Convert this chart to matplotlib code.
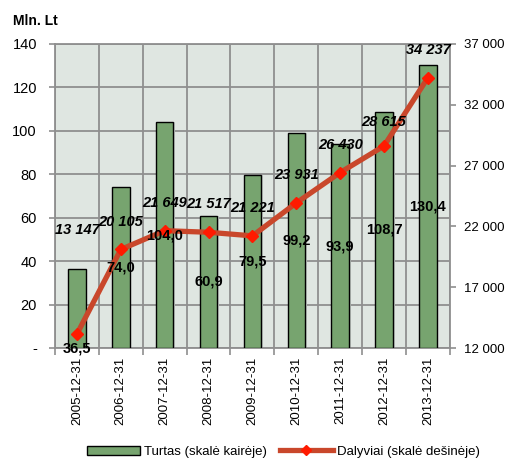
import numpy as np
import matplotlib.pyplot as plt
from matplotlib.ticker import FixedLocator, FuncFormatter
from matplotlib.patches import Patch
from matplotlib.lines import Line2D

# data
dates = ["2005-12-31", "2006-12-31", "2007-12-31", "2008-12-31", "2009-12-31",
         "2010-12-31", "2011-12-31", "2012-12-31", "2013-12-31"]
turtas = [36.5, 74.0, 104.0, 60.9, 79.5, 99.2, 93.9, 108.7, 130.4]
dalyviai = [13147, 20105, 21649, 21517, 21221, 23931, 26430, 28615, 34237]

plt.rcParams["font.family"] = ["Liberation Sans Narrow", "Liberation Sans", "DejaVu Sans"]
plt.rcParams["font.size"] = 10

fig = plt.figure(figsize=(5.06, 4.61), dpi=100)
ax = fig.add_axes([0.1087, 0.2451, 0.7803, 0.6595])
ay = ax.twinx()

grid_c = "#8f8f8f"
ax.set_facecolor("#dfe6e1")
x = np.arange(len(dates))

ax.bar(x + 0.04, turtas, width=0.4, color="#c5ccc7", zorder=2, linewidth=0)  # soft shadow
ax.bar(x, turtas, width=0.4, color="#77a46f", edgecolor="black", linewidth=1.0, zorder=3)

ax.set_xlim(-0.5, len(dates) - 0.5)
ax.set_ylim(0, 140)
ax.set_yticks(np.arange(0, 141, 20))
ax.yaxis.set_major_formatter(FuncFormatter(lambda v, p: "-" if v == 0 else f"{v:.0f}"))
ax.set_xticks(x)
ax.set_xticklabels(dates, rotation=90)
ax.xaxis.set_minor_locator(FixedLocator(np.arange(-0.5, len(dates), 1.0)))
ax.tick_params(axis="x", which="major", length=0, pad=6, labelsize=9.5)
ax.tick_params(axis="x", which="minor", length=5, color=grid_c, width=1.2)
ax.tick_params(axis="y", length=4, color=grid_c, width=1.2, labelsize=10.5, pad=9)
ax.grid(True, which="minor", axis="x", color=grid_c, lw=1.3, zorder=1)
ax.grid(True, which="major", axis="y", color=grid_c, lw=1.3, zorder=1)
ax.set_axisbelow(True)
for s in ax.spines.values():
    s.set_color(grid_c)
    s.set_linewidth(1.3)

ay.plot(x, dalyviai, color="#c9472b", lw=3.8, zorder=4)
ay.plot(x, dalyviai, ls="none", marker="D", ms=6.5, color="#ff1a00", zorder=5)
ay.set_ylim(12000, 37000)
ay.set_yticks(np.arange(12000, 37001, 5000))
ay.yaxis.set_major_formatter(FuncFormatter(lambda v, p: f"{int(v):,}".replace(",", " ")))
ay.tick_params(axis="y", length=4, color=grid_c, width=1.2, labelsize=9.5, pad=6)
for s in ay.spines.values():
    s.set_visible(False)

# bar labels at the middle of each bar (first one moved down to the base),
# drawn on the top axes so they sit over the line
for i, v in enumerate(turtas):
    yy = v / 2 if i > 0 else 0
    ay.text(i, yy, f"{v:.1f}".replace(".", ","), ha="center", va="center",
            fontsize=10.5, fontweight="bold", zorder=6, transform=ax.transData)

offs = [75, 20, 20, 20, 20, 20, 20, 17, 20]
for i, v in enumerate(dalyviai):
    ay.annotate(f"{v:,}".replace(",", " "), (i, v), xytext=(0, offs[i]),
                textcoords="offset points", ha="center", va="center",
                fontsize=10.5, fontweight="bold", fontstyle="italic", zorder=6)

fig.text(0.025, 0.955, "Mln. Lt", fontsize=10, fontweight="bold", va="center")

handles = [Patch(facecolor="#77a46f", edgecolor="black", linewidth=1.0),
           Line2D([], [], color="#c9472b", lw=3.8, marker="D", ms=5, mfc="#ff1a00", mec="#ff1a00")]
fig.legend(handles, ["Turtas (skalė kairėje)", "Dalyviai (skalė dešinėje)"],
           loc="center", bbox_to_anchor=(0.56, 0.02), ncol=2, frameon=False,
           fontsize=9.5, handlelength=4, handletextpad=0.3, columnspacing=1.0)

fig.savefig("out.png", dpi=100)
